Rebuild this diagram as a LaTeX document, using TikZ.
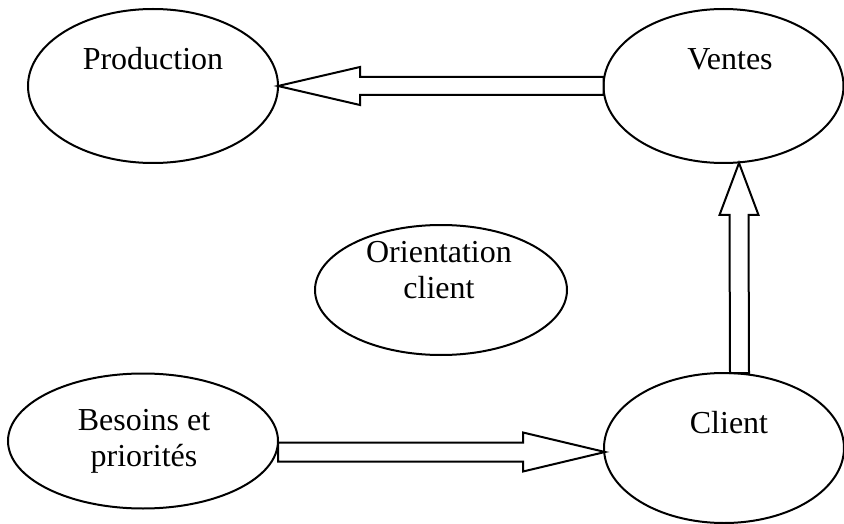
\documentclass[tikz,border=0pt]{standalone}
\usepackage{fontspec}
\setmainfont{Liberation Serif}
\usetikzlibrary{shapes.geometric,calc}
\begin{document}
\begin{tikzpicture}[x=1pt,y=-1pt,
  oval/.style={draw=black,line width=2pt,ellipse,inner sep=0pt,outer sep=0pt,fill=white},
  lbl/.style={font=\fontsize{32}{36}\selectfont,inner sep=0pt,align=center},
  blockarrow/.style={draw=black,line width=2pt,line join=miter,fill=white}]
\useasboundingbox (0,0) rectangle (844,524);
% ellipses
\node[oval,minimum width=250pt,minimum height=154pt] (production) at (153,86) {};
\node[oval,minimum width=240pt,minimum height=154pt] (ventes) at (723.5,86) {};
\node[oval,minimum width=252pt,minimum height=130pt] (orient) at (441,290) {};
\node[oval,minimum width=270pt,minimum height=135pt] (besoins) at (143,441) {};
\node[oval,minimum width=240pt,minimum height=150pt] (client) at (724,448) {};
% labels
\node[lbl,anchor=base] (tprod) at (153,70) {Production};
\node[lbl,anchor=base] (tvent) at (730,70) {Ventes};
\node[lbl] (torient) at (439,270) {Orientation\\client};
\node[lbl] (tbes) at (144,441) {Besoins et\\priorités};
\node[lbl,anchor=base] (tcli) at (729,433) {Client};
% connectors (block arrows)
\coordinate (a1s) at (ventes.west);
\coordinate (a1e) at (production.east);
\draw[blockarrow] ($(a1s)+(0,-9)$) -- ($(a1e)+(82,-9)$) -- ($(a1e)+(82,-19)$) -- (a1e)
  -- ($(a1e)+(82,19)$) -- ($(a1e)+(82,9)$) -- ($(a1s)+(0,9)$) -- cycle;
\coordinate (a2s) at ($(besoins.east)+(0,11)$);
\coordinate (a2e) at ($(client.west)+(1,4)$);
\draw[blockarrow] ($(a2s)+(0,-9.5)$) -- ($(a2e)+(-82,-9.5)$) -- ($(a2e)+(-82,-19.5)$) -- (a2e)
  -- ($(a2e)+(-82,19.5)$) -- ($(a2e)+(-82,9.5)$) -- ($(a2s)+(0,9.5)$) -- cycle;
\coordinate (a3s) at ($(client.north)+(15.5,0)$);
\coordinate (a3e) at ($(ventes.south)+(15.5,0)$);
\draw[blockarrow] ($(a3s)+(-9.5,0)$) -- ($(a3e)+(-9.5,52)$) -- ($(a3e)+(-19.5,52)$) -- (a3e)
  -- ($(a3e)+(19.5,52)$) -- ($(a3e)+(9.5,52)$) -- ($(a3s)+(9.5,0)$) -- cycle;
\end{tikzpicture}
\end{document}
